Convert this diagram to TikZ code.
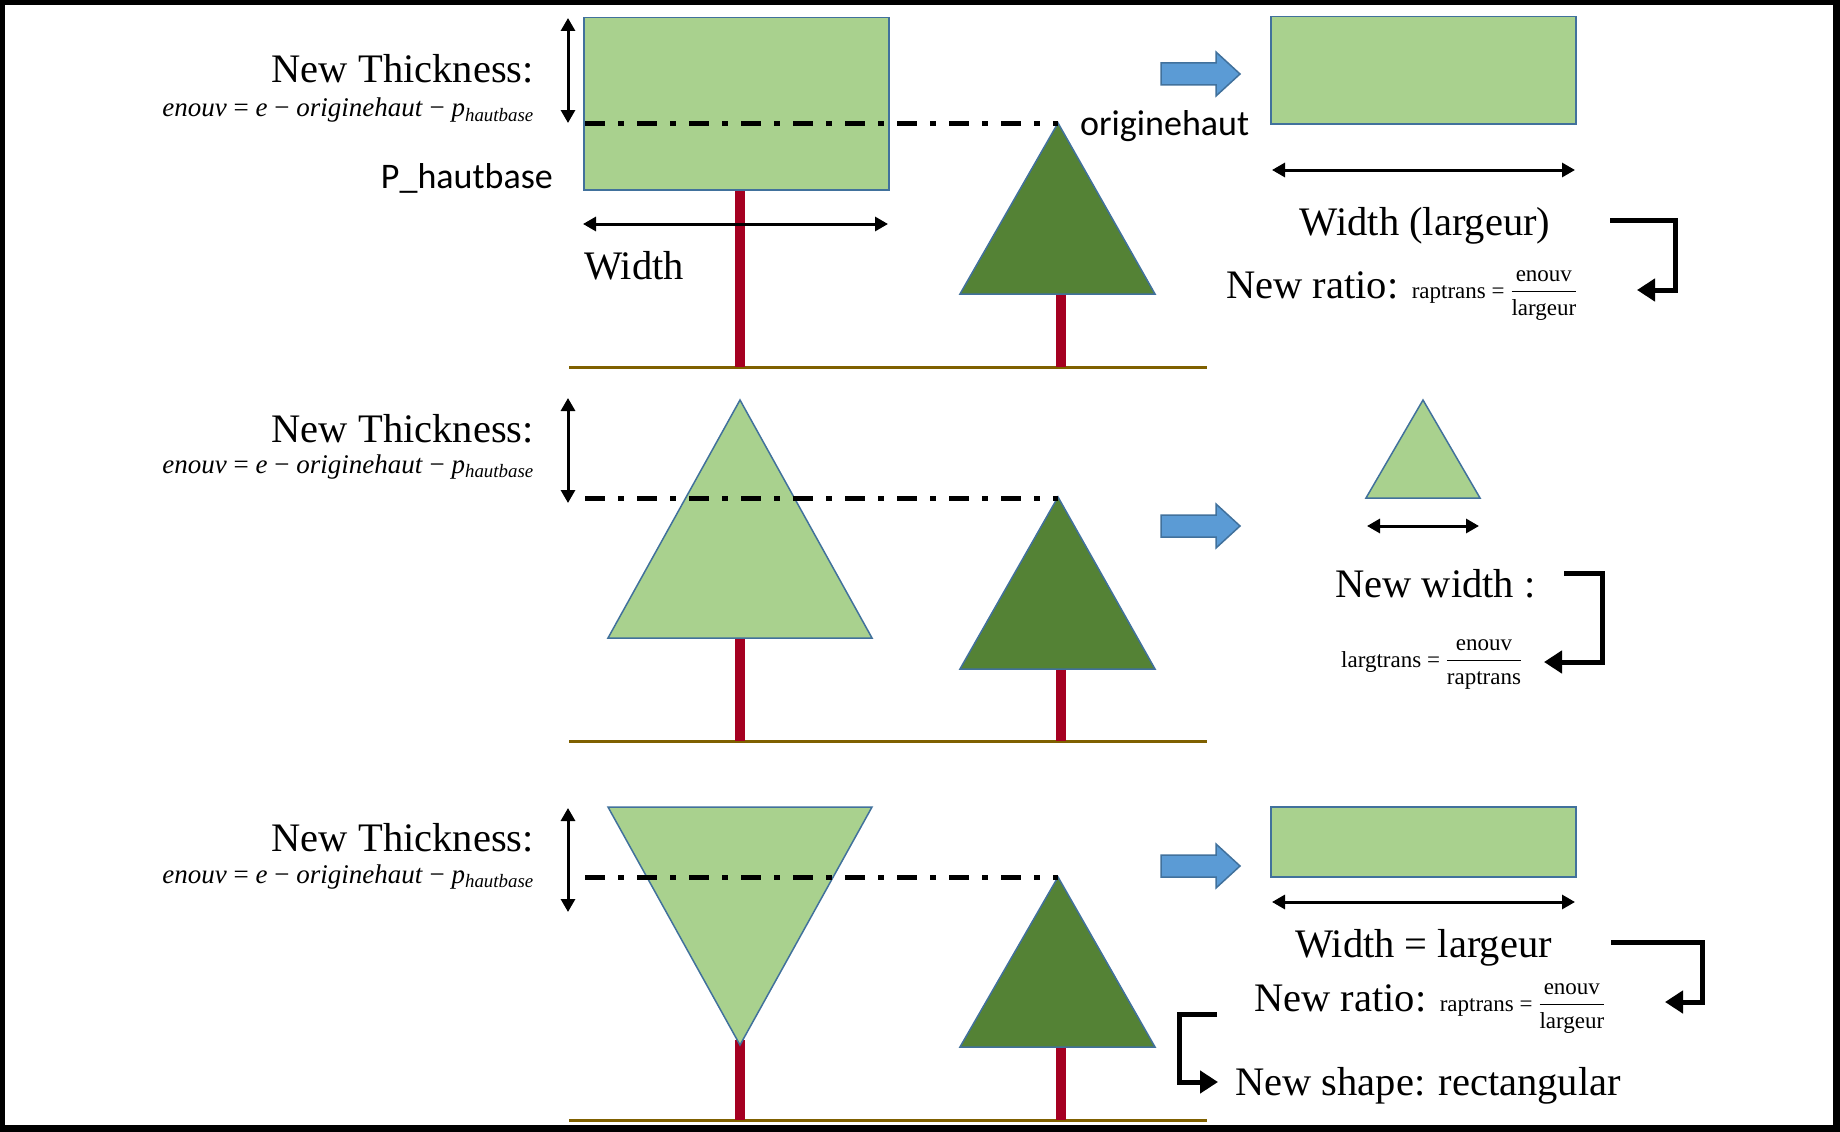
\documentclass[tikz,border=0pt]{standalone}
\usepackage{amsmath}
\usepackage{fontspec}
\setmainfont{Liberation Serif}
\newfontfamily\carlito{Carlito}
\usetikzlibrary{arrows.meta}
\definecolor{leaf}{HTML}{A9D18E}
\definecolor{edgeblue}{HTML}{41719C}
\definecolor{darkleaf}{HTML}{548235}
\definecolor{trunkred}{HTML}{A50021}
\definecolor{soil}{HTML}{7F6000}
\definecolor{flowblue}{HTML}{5B9BD5}
\tikzset{
 big/.style={font=\fontsize{40.5}{48}\selectfont, inner sep=0pt},
 eqn/.style={font=\fontsize{27}{32}\selectfont, inner sep=0pt, anchor=base east},
 small/.style={font=\fontsize{23}{28}\selectfont, inner sep=0pt},
 sans/.style={font=\carlito\fontsize{36}{42}\selectfont, inner sep=0pt},
 leafbox/.style={draw=edgeblue, fill=leaf, line width=1.5pt, inner sep=0pt, anchor=north west},
 lightleaf/.style={draw=edgeblue, fill=leaf, line width=1.5pt},
 darkfol/.style={draw=edgeblue, fill=darkleaf, line width=1.5pt},
 trunkline/.style={draw=trunkred, line width=10pt},
 ground/.style={draw=soil, line width=3pt},
 measure/.style={line width=3pt, {Triangle[length=13pt,width=14pt]}-{Triangle[length=13pt,width=14pt]}},
 levelline/.style={line width=5pt, dash pattern=on 20pt off 13pt on 6pt off 13pt},
 bendarrow/.style={line width=5pt, line join=miter, -{Triangle[length=18pt,width=22pt]}},
 flowarrow/.style={draw=edgeblue, fill=flowblue, line width=1.5pt, line join=miter},
}
\newcommand{\thickformula}{\textit{enouv} = \textit{e} − \textit{originehaut} − \textit{p}\textsubscript{\textit{hautbase}}}
\newcommand{\flowshape}[2]{%
 \draw[flowarrow] (1161,#2-11) -- (1216,#2-11) -- (1216,#2-22) -- (1240,#2) -- (1216,#2+22) -- (1216,#2+11) -- (1161,#2+11) -- cycle;
 \coordinate (#1) at (1240,#2);}
\begin{document}
\begin{tikzpicture}[x=1pt,y=-1pt]
\useasboundingbox (0,0) rectangle (1840,1132);
\fill[black] (0,0) rectangle (1840,1132);
\fill[white] (5,5) rectangle (1833,1125);

% ===== Section 1 =====
\draw[ground] (569,367) -- (1207,367);
\draw[trunkline] (740,189) -- (740,367);
\draw[trunkline] (1061,294) -- (1061,367);
\node[leafbox, minimum width=305pt, minimum height=172pt] (r1) at (583,17) {};
\draw[darkfol] (1058,123) -- (960,294) -- (1155,294) -- cycle;
\coordinate (a1) at (1058,123);
\coordinate (l1) at (585,123);
\draw[levelline] (l1) -- (a1);
\coordinate (v1t) at (568,18); \coordinate (v1b) at (568,123);
\draw[measure] (v1t) -- (v1b);
\coordinate (h1l) at (583,224); \coordinate (h1r) at (888,224);
\draw[measure] (h1l) -- (h1r);
\node[big, anchor=base east] (nt1) at (534,83) {New Thickness:};
\node[eqn] (f1) at (534,117) {\thickformula};
\node[sans, anchor=base east] (ph) at (553,188) {P\_hautbase};
\node[big, anchor=base west] (w1) at (584,279) {Width};
\node[sans, anchor=base west] (oh) at (1080,135) {originehaut};
\flowshape{fa1}{74}
\node[leafbox, minimum width=305pt, minimum height=107pt] (r2) at (1270,16) {};
\coordinate (h2l) at (1272,170); \coordinate (h2r) at (1575,170);
\draw[measure] (h2l) -- (h2r);
\node[big, anchor=base] (wl1) at (1425,235) {Width (largeur)};
\node[anchor=base west, inner sep=0pt] (nr1) at (1226,298) {{\fontsize{40.5}{48}\selectfont New ratio: }{\fontsize{23}{28}\selectfont raptrans = $\dfrac{\text{enouv}}{\text{largeur}}$}};
\coordinate (b1s) at (1610,220); \coordinate (b1c1) at (1675,220); \coordinate (b1c2) at (1675,290); \coordinate (b1e) at (1637,290);
\draw[bendarrow] (b1s) -- (b1c1) -- (b1c2) -- (b1e);

% ===== Section 2 =====
\draw[ground] (569,741) -- (1207,741);
\draw[trunkline] (740,638) -- (740,741);
\draw[trunkline] (1061,669) -- (1061,741);
\draw[lightleaf] (740,400) -- (608,638) -- (872,638) -- cycle;
\draw[darkfol] (1058,497) -- (960,669) -- (1155,669) -- cycle;
\coordinate (a2) at (1058,498);
\coordinate (l2) at (585,498);
\draw[levelline] (l2) -- (a2);
\coordinate (v2t) at (568,398); \coordinate (v2b) at (568,503);
\draw[measure] (v2t) -- (v2b);
\node[big, anchor=base east] (nt2) at (534,442) {New Thickness:};
\node[eqn] (f2) at (534,473) {\thickformula};
\flowshape{fa2}{526}
\draw[lightleaf] (1423,400) -- (1366,498) -- (1480,498) -- cycle;
\coordinate (h3l) at (1367,526); \coordinate (h3r) at (1479,526);
\draw[measure] (h3l) -- (h3r);
\node[big, anchor=base west] (nw) at (1335,597) {New width :};
\node[small, anchor=base west] (lt) at (1341,667) {largtrans = $\dfrac{\text{enouv}}{\text{raptrans}}$};
\coordinate (b2s) at (1564,573); \coordinate (b2c1) at (1602,573); \coordinate (b2c2) at (1602,662); \coordinate (b2e) at (1544,662);
\draw[bendarrow] (b2s) -- (b2c1) -- (b2c2) -- (b2e);

% ===== Section 3 =====
\draw[ground] (569,1120) -- (1207,1120);
\draw[trunkline] (740,1040) -- (740,1120);
\draw[trunkline] (1061,1047) -- (1061,1120);
\draw[lightleaf] (608,807) -- (872,807) -- (740,1045) -- cycle;
\draw[darkfol] (1058,877) -- (960,1047) -- (1155,1047) -- cycle;
\coordinate (a3) at (1058,877);
\coordinate (l3) at (585,877);
\draw[levelline] (l3) -- (a3);
\coordinate (v3t) at (568,808); \coordinate (v3b) at (568,912);
\draw[measure] (v3t) -- (v3b);
\node[big, anchor=base east] (nt3) at (534,851) {New Thickness:};
\node[eqn] (f3) at (534,883) {\thickformula};
\flowshape{fa3}{866}
\node[leafbox, minimum width=305pt, minimum height=70pt] (r3) at (1270,806) {};
\coordinate (h4l) at (1272,902); \coordinate (h4r) at (1575,902);
\draw[measure] (h4l) -- (h4r);
\node[big, anchor=base west] (wl3) at (1295,957) {Width = largeur};
\node[anchor=base west, inner sep=0pt] (nr3) at (1254,1011) {{\fontsize{40.5}{48}\selectfont New ratio: }{\fontsize{23}{28}\selectfont raptrans = $\dfrac{\text{enouv}}{\text{largeur}}$}};
\node[big, anchor=base west] (ns) at (1235,1095) {New shape: rectangular};
\coordinate (b3s) at (1611,942); \coordinate (b3c1) at (1702,942); \coordinate (b3c2) at (1702,1002); \coordinate (b3e) at (1665,1002);
\draw[bendarrow] (b3s) -- (b3c1) -- (b3c2) -- (b3e);
\coordinate (b4s) at (1217,1014); \coordinate (b4c1) at (1179,1014); \coordinate (b4c2) at (1179,1082); \coordinate (b4e) at (1218,1082);
\draw[bendarrow] (b4s) -- (b4c1) -- (b4c2) -- (b4e);
\end{tikzpicture}
\end{document}
